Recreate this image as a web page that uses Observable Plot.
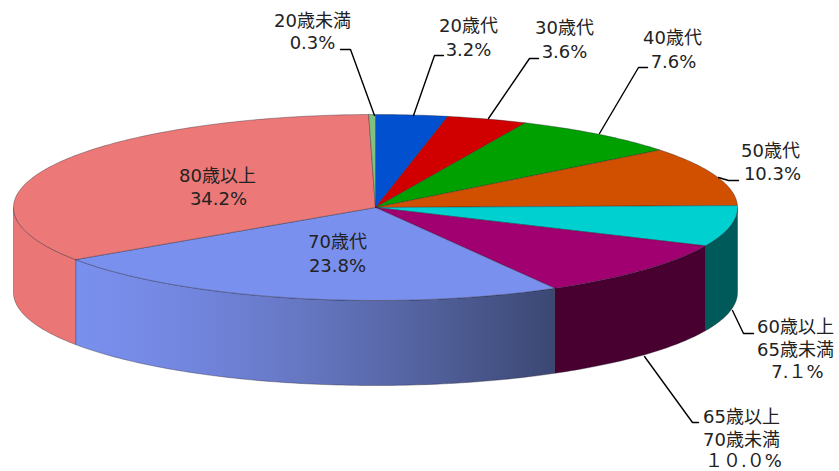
<!DOCTYPE html>
<html><head><meta charset="utf-8">
<style>html,body{margin:0;padding:0;background:#fff}svg{display:block}</style>
<script src="https://cdn.jsdelivr.net/npm/d3@7"></script>
<script src="https://cdn.jsdelivr.net/npm/@observablehq/plot@0.6"></script>
</head><body><div id="chart"></div>
<script>
// Slices in drawing order, clockwise from 12 o'clock
const categories = ["20歳代","30歳代","40歳代","50歳代","60歳以上65歳未満","65歳以上70歳未満","70歳代","80歳以上","20歳未満"];
const shares = [3.2,3.6,7.6,10.3,7.1,10.0,23.8,34.2,0.3];
const topColors = ["#0050d0","#d00000","#00a000","#d05000","#00d0d0","#a00070","#7a90ee","#ec7878","#80c080"];
const sideColors = ["#002868","#680000","#005000","#682800","#005a5a","#480030","url(#side70)","#ea7676","#406040"];

// Label lines
const labelTexts = ["20歳未満","0.3%","20歳代","3.2%","30歳代","3.6%","40歳代","7.6%","50歳代","10.3%","60歳以上","65歳未満","7.１%","65歳以上","70歳未満","１０.０%","70歳代","23.8%","80歳以上","34.2%"];
const labelXs = [312,312,468,468,564,564,672,673,770,772,795,795,797,741,741,743,337,337,217,218];
const labelYs = [21,43,26,50,28,52,38,62,151,174,327,350,372,417,440,461,242,266,176,199];

// Leader lines, slice edge to text
const leaderNames = ["20歳未満","20歳代","30歳代","40歳代","50歳代","60歳以上","65歳以上"];
const leaderXs = [[374,350,340],[413,434,443],[488,529,538],[599,638,647],[718,728,738],[732,743,753],[644,692,698]];
const leaderYs = [[115,49,49],[115,55,55],[118,58,58],[133,67,67],[177,180,180],[310,333,333],[356,422,422]];

// Pie frame
const cx = 375, cy = 207, rx = 362, ry = 93, depth = 85;
const total = d3.sum(shares);
const ends = d3.cumsum(shares).map(v => v / total);
const spans = shares.map((_, i) => [i ? ends[i-1] : 0, ends[i]]);

const px = f => cx + rx * Math.sin(2*Math.PI*f);
const py = f => cy - ry * Math.cos(2*Math.PI*f);
const arc = (a, b) => {
  const n = Math.max(2, Math.ceil((b - a) * 360));
  return d3.range(n + 1).map(i => a + (b - a) * i / n);
};

const wedge = ([a, b]) => {
  const pts = [[cx, cy], ...arc(a, b).map(f => [px(f), py(f)]), [cx, cy]];
  return pts.map(([x, y]) => ({x, y}));
};
const wall = ([a, b]) => {
  const s = Math.max(a, 0.25), e = Math.min(b, 0.75);
  if (e <= s) return null;
  const fr = arc(s, e);
  const pts = [...fr.map(f => [px(f), py(f)]), ...fr.slice().reverse().map(f => [px(f), py(f) + depth])];
  pts.push(pts[0]);
  return pts.map(([x, y]) => ({x, y}));
};

const gradient = () => {
  const ns = "http://www.w3.org/2000/svg";
  const defs = document.createElementNS(ns, "defs");
  const g = document.createElementNS(ns, "linearGradient");
  g.setAttribute("id", "side70");
  g.setAttribute("gradientUnits", "userSpaceOnUse");
  g.setAttribute("x1", px(spans[6][1])); g.setAttribute("x2", px(spans[6][0]));
  g.setAttribute("y1", 0); g.setAttribute("y2", 0);
  [[0,"#7a90ee"],[0.2,"#7488e2"],[0.5,"#6475bf"],[0.75,"#515f9a"],[1,"#3b4773"]].forEach(([o,c]) => {
    const s = document.createElementNS(ns, "stop");
    s.setAttribute("offset", o); s.setAttribute("stop-color", c);
    g.appendChild(s);
  });
  defs.appendChild(g);
  return defs;
};

const marks = [gradient];
spans.forEach((sp, i) => {
  const w = wall(sp);
  if (w) marks.push(Plot.line(w, {x:"x", y:"y", fill:sideColors[i], stroke:"#20202a", strokeWidth:0.6, strokeOpacity:0.6, curve:"linear"}));
});
spans.forEach((sp, i) => {
  marks.push(Plot.line(wedge(sp), {x:"x", y:"y", fill:topColors[i], stroke:"#20202a", strokeWidth:0.6, strokeOpacity:0.6, curve:"linear"}));
});
leaderNames.forEach((_, i) => {
  const pts = leaderXs[i].map((x, j) => ({x, y: leaderYs[i][j]}));
  marks.push(Plot.line(pts, {x:"x", y:"y", stroke:"#000", strokeWidth:1.4, curve:"linear"}));
});
marks.push(Plot.text(labelTexts.map((t, i) => ({t, x: labelXs[i], y: labelYs[i]})), {
  x:"x", y:"y", text:"t", fontSize:18, fill:"#222", textAnchor:"middle", lineAnchor:"middle",
  fontFamily:"'DejaVu Sans','Noto Sans CJK JP',sans-serif"
}));

const chart = Plot.plot({
  width:839, height:471, margin:0,
  style:{background:"#fff", overflow:"visible"},
  x:{domain:[0,839], range:[0,839], axis:null},
  y:{domain:[0,471], range:[0,471], axis:null},
  marks
});
document.getElementById("chart").appendChild(chart);
</script></body></html>
